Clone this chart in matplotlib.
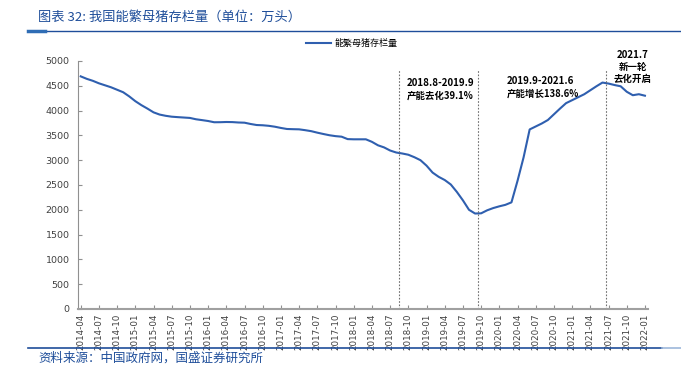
import numpy as np
import pandas as pd
import matplotlib
matplotlib.use("Agg")
import matplotlib.pyplot as plt
from matplotlib.lines import Line2D

plt.rcParams['font.family'] = ['DejaVu Sans', 'Noto Sans CJK SC']

# Data: monthly breeding sow inventory (10k head), 2014-04 .. 2022-01
months = [p.strftime('%Y-%m') for p in pd.period_range('2014-04', '2022-01', freq='M')]
sows = [4690, 4640, 4600, 4550, 4510, 4470, 4420, 4370, 4286, 4190,
        4110, 4040, 3965, 3920, 3895, 3877, 3868, 3860, 3852, 3825,
        3808, 3790, 3765, 3766, 3770, 3768, 3760, 3756, 3730, 3709,
        3704, 3693, 3675, 3650, 3629, 3625, 3622, 3605, 3585, 3555,
        3528, 3503, 3485, 3474, 3425, 3421, 3421, 3421, 3370, 3300,
        3258, 3195, 3155, 3135, 3110, 3060, 3000, 2890, 2750, 2665,
        2600, 2510, 2360, 2190, 2000, 1925, 1929, 1990, 2035, 2070,
        2100, 2150, 2584, 3058, 3620, 3680, 3740, 3810, 3925, 4040,
        4150, 4210, 4270, 4330, 4410, 4490, 4565, 4545, 4515, 4490,
        4380, 4310, 4330, 4300]
marks = ['2018-08', '2019-09', '2021-06']
notes = [('2018.8-2019.9', '产能去化39.1%'),
         ('2019.9-2021.6', '产能增长138.6%'),
         ('2021.7', '新一轮', '去化开启')]

blue = '#2F5FAF'
dark = '#1F4E9A'

fig = plt.figure(figsize=(6.81, 3.76), dpi=100)
ax = fig.add_axes([0.1145, 0.1782, 0.837, 0.6596])

x = np.arange(len(months))
ax.plot(x, sows, color=blue, lw=1.5, label='能繁母猪存栏量')

for m in marks:
    ax.axvline(months.index(m) + 0.5, ymax=0.965, color='#707070',
               lw=0.8, ls=(0, (1.5, 1.5)))

ax.set_xlim(-0.45, 93.5)
ax.set_ylim(0, 5000)
ax.set_yticks(np.arange(0, 5001, 500))
ax.set_xticks(x[::3])
ax.set_xticklabels(months[::3], rotation=90, fontsize=6.3, color='#404040')
ax.tick_params(axis='y', labelsize=6.8, labelcolor='#404040', direction='in',
               length=3, color='#909090', pad=6)
ax.tick_params(axis='x', direction='in', length=3, color='#909090', pad=3)
for s in ['top', 'right']:
    ax.spines[s].set_visible(False)
ax.spines['left'].set_color('#909090')
ax.spines['left'].set_linewidth(0.8)
ax.spines['bottom'].set_color('#a0a0a0')
ax.spines['bottom'].set_linewidth(1.5)

leg = ax.legend(loc='lower center', bbox_to_anchor=(0.48, 1.02), frameon=False,
                fontsize=6.5, handlelength=2.8, handletextpad=0.4)
for t in leg.get_texts():
    t.set_family(['Noto Sans CJK SC', 'DejaVu Sans'])

cjk = ['Noto Sans CJK SC', 'DejaVu Sans']
ax.text(53.8, 4560, notes[0][0], fontsize=7, fontweight='bold', va='center', family=cjk)
ax.text(53.8, 4300, notes[0][1], fontsize=6.8, fontweight='bold', va='center', family=cjk)
ax.text(70.2, 4600, notes[1][0], fontsize=7, fontweight='bold', va='center', family=cjk)
ax.text(70.2, 4340, notes[1][1], fontsize=6.8, fontweight='bold', va='center', family=cjk)
for i, (t, yv) in enumerate(zip(notes[2], [5120, 4880, 4640])):
    ax.text(91, yv, t, fontsize=7 if i == 0 else 6.8, fontweight='bold',
            ha='center', va='center', family=cjk, clip_on=False)

# header / footer
fig.text(38 / 681, 1 - 17 / 376, '图表 32: 我国能繁母猪存栏量（单位：万头）', fontsize=9.5,
         color=dark, style='italic', va='center', family=cjk)
fig.add_artist(Line2D([28 / 681, 1], [1 - 31 / 376] * 2, color=dark, lw=1.0))
fig.add_artist(Line2D([28 / 681, 45 / 681], [1 - 31 / 376] * 2, color='#2F6DB5', lw=2.5))
fig.add_artist(Line2D([28 / 681, 662 / 681], [1 - 348 / 376] * 2, color=dark, lw=1.2))
fig.add_artist(Line2D([662 / 681, 1], [1 - 348 / 376] * 2, color='#9DB7DA', lw=1.2))
fig.text(38 / 681, 1 - 358 / 376, '资料来源：中国政府网，国盛证券研究所', fontsize=9,
         color=dark, style='italic', va='center', family=cjk)

fig.savefig('out.png', dpi=100)
